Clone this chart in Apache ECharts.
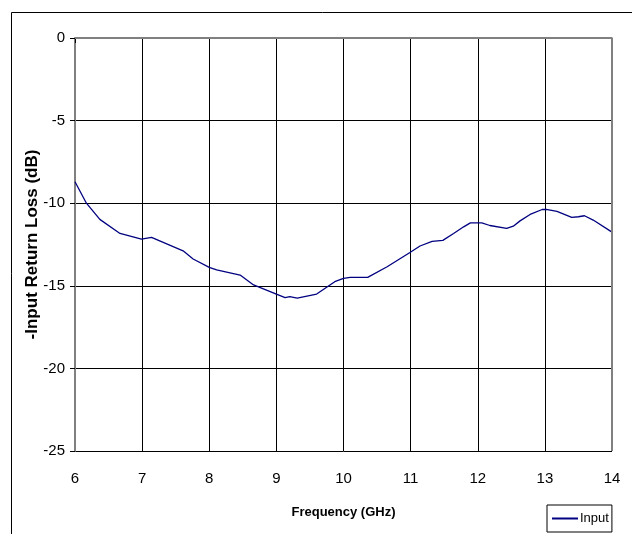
<!DOCTYPE html>
<html>
<head>
<meta charset="utf-8">
<script src="https://cdn.jsdelivr.net/npm/echarts@6/dist/echarts.min.js"></script>
<style>html,body{margin:0;padding:0;background:#fff}#c{width:632px;height:534px}</style>
</head>
<body>
<div id="c"></div>
<script>
const freq = [6.0, 6.17, 6.37, 6.67, 6.99, 7.14, 7.61, 7.76, 8.0, 8.11, 8.46, 8.66, 9.0, 9.13, 9.2, 9.31, 9.6, 9.87, 10.0, 10.1, 10.36, 10.65, 10.99, 11.14, 11.32, 11.48, 11.64, 11.79, 11.89, 12.06, 12.18, 12.43, 12.53, 12.63, 12.78, 12.96, 13.02, 13.18, 13.4, 13.5, 13.59, 13.72, 14.0];
const loss = [-8.7, -10.0, -10.98, -11.83, -12.17, -12.07, -12.88, -13.38, -13.88, -14.04, -14.35, -14.95, -15.5, -15.72, -15.66, -15.74, -15.5, -14.75, -14.55, -14.49, -14.49, -13.85, -12.98, -12.59, -12.31, -12.25, -11.83, -11.43, -11.19, -11.19, -11.35, -11.53, -11.39, -11.07, -10.68, -10.38, -10.38, -10.5, -10.86, -10.82, -10.76, -11.02, -11.75];
const xTicks = [6, 7, 8, 9, 10, 11, 12, 13, 14];
const yTicks = [0, -5, -10, -15, -20, -25];
const seriesName = 'Input';

const font = '"Liberation Sans Narrow", "Liberation Sans", Arial, sans-serif';
const boldFont = '"Liberation Sans", Arial, sans-serif';
const chart = echarts.init(document.getElementById('c'), null, {renderer: 'canvas'});
chart.setOption({
  animation: false,
  backgroundColor: '#fff',
  graphic: [{
    type: 'rect', left: 9, top: 10, shape: {width: 640, height: 540},
    style: {fill: 'none', stroke: '#000', lineWidth: 1}, silent: true, z: -1
  }],
  grid: {left: 75, right: 20, top: 38, bottom: 83, show: false},
  legend: {
    data: [seriesName], left: 547, top: 505, orient: 'horizontal',
    itemWidth: 26, itemHeight: 2, itemGap: 2,
    icon: 'rect',
    borderColor: '#000', borderWidth: 1, borderRadius: 0,
    padding: [7, 3, 7, 5],
    textStyle: {fontFamily: font, fontSize: 13, color: '#000', padding: [0, 0, 0, -3]}
  },
  xAxis: {
    type: 'value', min: xTicks[0], max: xTicks[xTicks.length - 1], interval: 1,
    name: 'Frequency (GHz)', nameLocation: 'middle', nameGap: 55,
    nameTextStyle: {fontFamily: boldFont, fontWeight: 'bold', fontSize: 13, color: '#000'},
    axisLine: {show: true, lineStyle: {color: '#000', width: 1}},
    axisTick: {show: true, inside: false, length: 5, lineStyle: {color: '#000'}},
    axisLabel: {fontFamily: font, fontSize: 15, color: '#000', margin: 20},
    splitLine: {show: true, lineStyle: {color: '#000', width: 1}}
  },
  yAxis: {
    type: 'value', min: yTicks[yTicks.length - 1], max: yTicks[0], interval: 5,
    name: '-Input Return Loss (dB)', nameLocation: 'middle', nameGap: 34, nameRotate: 90,
    nameMoveOverlap: false,
    nameTextStyle: {fontFamily: boldFont, fontWeight: 'bold', fontSize: 17, color: '#000'},
    axisLine: {show: true, lineStyle: {color: '#808080', width: 2}},
    axisTick: {show: true, inside: false, length: 5, lineStyle: {color: '#000'}},
    axisLabel: {fontFamily: font, fontSize: 15, color: '#000', margin: 10},
    splitLine: {show: true, lineStyle: {color: '#000', width: 1}}
  },
  series: [{
    name: seriesName, type: 'line',
    data: freq.map((f, i) => [f, loss[i]]),
    showSymbol: false, smooth: false,
    lineStyle: {color: '#000080', width: 1.3},
    itemStyle: {color: '#000080'}
  }, {
    type: 'line', silent: true, data: [[14, -25], [14, 0], [6, 0]],
    showSymbol: false, lineStyle: {color: '#808080', width: 2}, tooltip: {show: false}
  }]
});
</script>
</body>
</html>
